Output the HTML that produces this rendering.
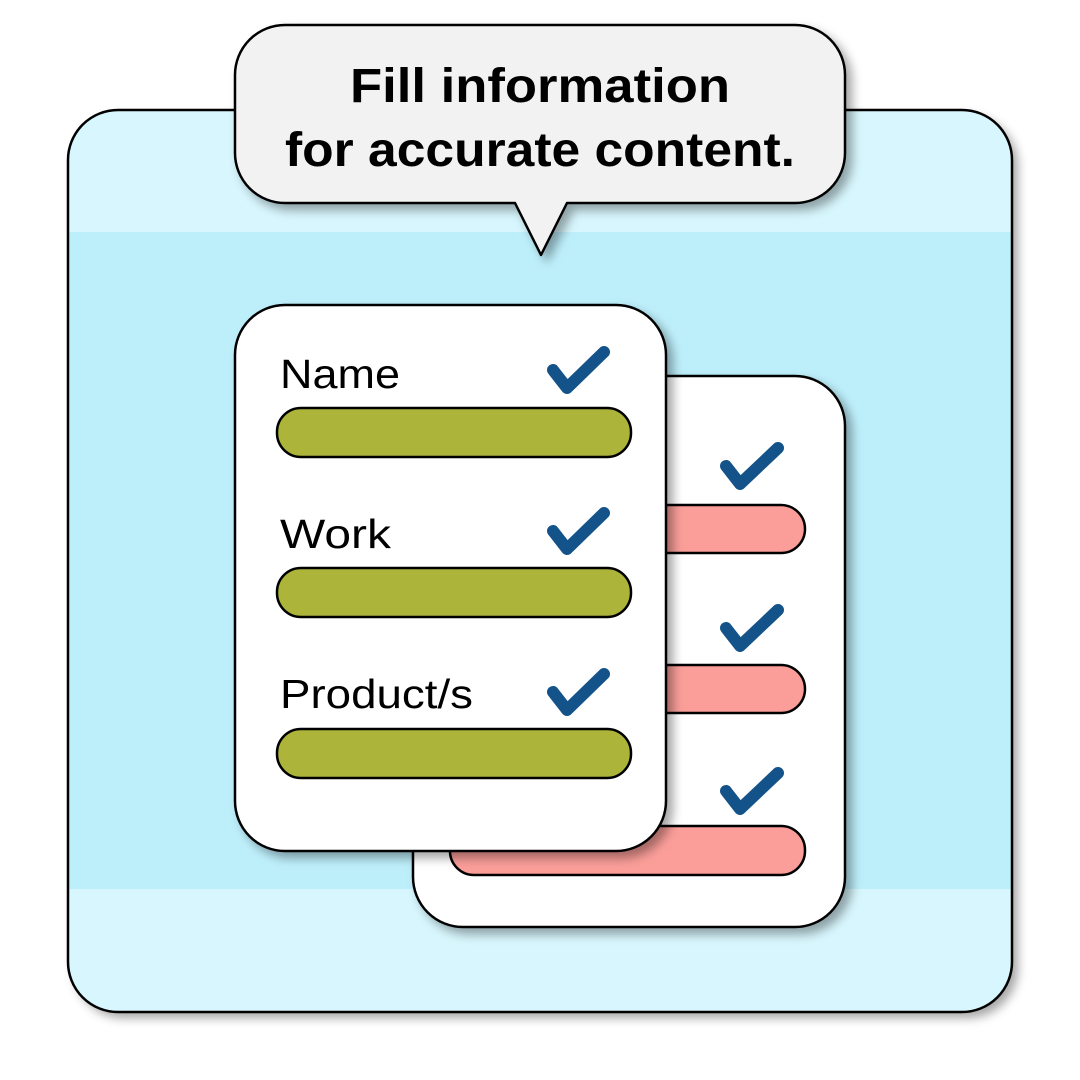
<!DOCTYPE html>
<html><head><meta charset="utf-8"><style>html,body{margin:0;padding:0;background:#fff}svg{display:block}</style></head>
<body>
<svg width="1080" height="1080" viewBox="0 0 1080 1080" xmlns="http://www.w3.org/2000/svg">
<defs>
<filter id="sh" x="-10%" y="-10%" width="130%" height="130%"><feDropShadow dx="6" dy="6" stdDeviation="5" flood-color="#000" flood-opacity="0.35"/></filter>
<clipPath id="oc"><rect x="68" y="110" width="944" height="902" rx="50"/></clipPath>
</defs>
<rect x="68" y="110" width="944" height="902" rx="50" fill="#d7f6fd" filter="url(#sh)"/>
<rect x="68" y="232" width="944" height="657" fill="#bdeffb" clip-path="url(#oc)"/>
<rect x="68" y="110" width="944" height="902" rx="50" fill="none" stroke="#000" stroke-width="2.5"/>

<g filter="url(#sh)">
<path d="M285,25 H795 A50,50 0 0 1 845,75 V153 A50,50 0 0 1 795,203 H567 L541,255 L515,203 H285 A50,50 0 0 1 235,153 V75 A50,50 0 0 1 285,25 Z" fill="#f2f2f2" stroke="#000" stroke-width="2.5" stroke-linejoin="round"/>
</g>
<text x="350" y="102" textLength="380" lengthAdjust="spacingAndGlyphs" font-family="Liberation Sans, sans-serif" font-weight="bold" font-size="48" fill="#000">Fill information</text>
<text x="285" y="166" textLength="510" lengthAdjust="spacingAndGlyphs" font-family="Liberation Sans, sans-serif" font-weight="bold" font-size="48" fill="#000">for accurate content.</text>

<rect x="413" y="376" width="432" height="551" rx="50" fill="#fff" stroke="#000" stroke-width="2.5" filter="url(#sh)"/>
<g fill="#fb9e99" stroke="#000" stroke-width="2.5">
<rect x="450" y="505" width="355" height="48" rx="24"/>
<rect x="450" y="665" width="355" height="48" rx="24"/>
<rect x="450" y="826" width="355" height="49" rx="24"/>
</g>
<g fill="none" stroke="#14538a" stroke-width="12" stroke-linecap="round" stroke-linejoin="round">
<polyline points="726,466 740,484 778,448"/>
<polyline points="726,628 740,646 778,610"/>
<polyline points="726,791 740,809 778,773"/>
</g>

<rect x="235" y="305" width="431" height="546" rx="50" fill="#fff" stroke="#000" stroke-width="2.5" filter="url(#sh)"/>
<g fill="#acb43a" stroke="#000" stroke-width="2.5">
<rect x="277" y="408" width="354" height="49" rx="24"/>
<rect x="277" y="568" width="354" height="49" rx="24"/>
<rect x="277" y="729" width="354" height="49" rx="24"/>
</g>
<g font-family="Liberation Sans, sans-serif" font-size="41" fill="#000" lengthAdjust="spacingAndGlyphs">
<text x="280" y="388" textLength="120" lengthAdjust="spacingAndGlyphs">Name</text>
<text x="280" y="548" textLength="111" lengthAdjust="spacingAndGlyphs">Work</text>
<text x="280" y="708" textLength="193" lengthAdjust="spacingAndGlyphs">Product/s</text>
</g>
<g fill="none" stroke="#14538a" stroke-width="12" stroke-linecap="round" stroke-linejoin="round">
<polyline points="553,370 567,388 604,352"/>
<polyline points="553,531 567,549 604,513"/>
<polyline points="553,692 567,710 604,674"/>
</g>
</svg>
</body></html>
